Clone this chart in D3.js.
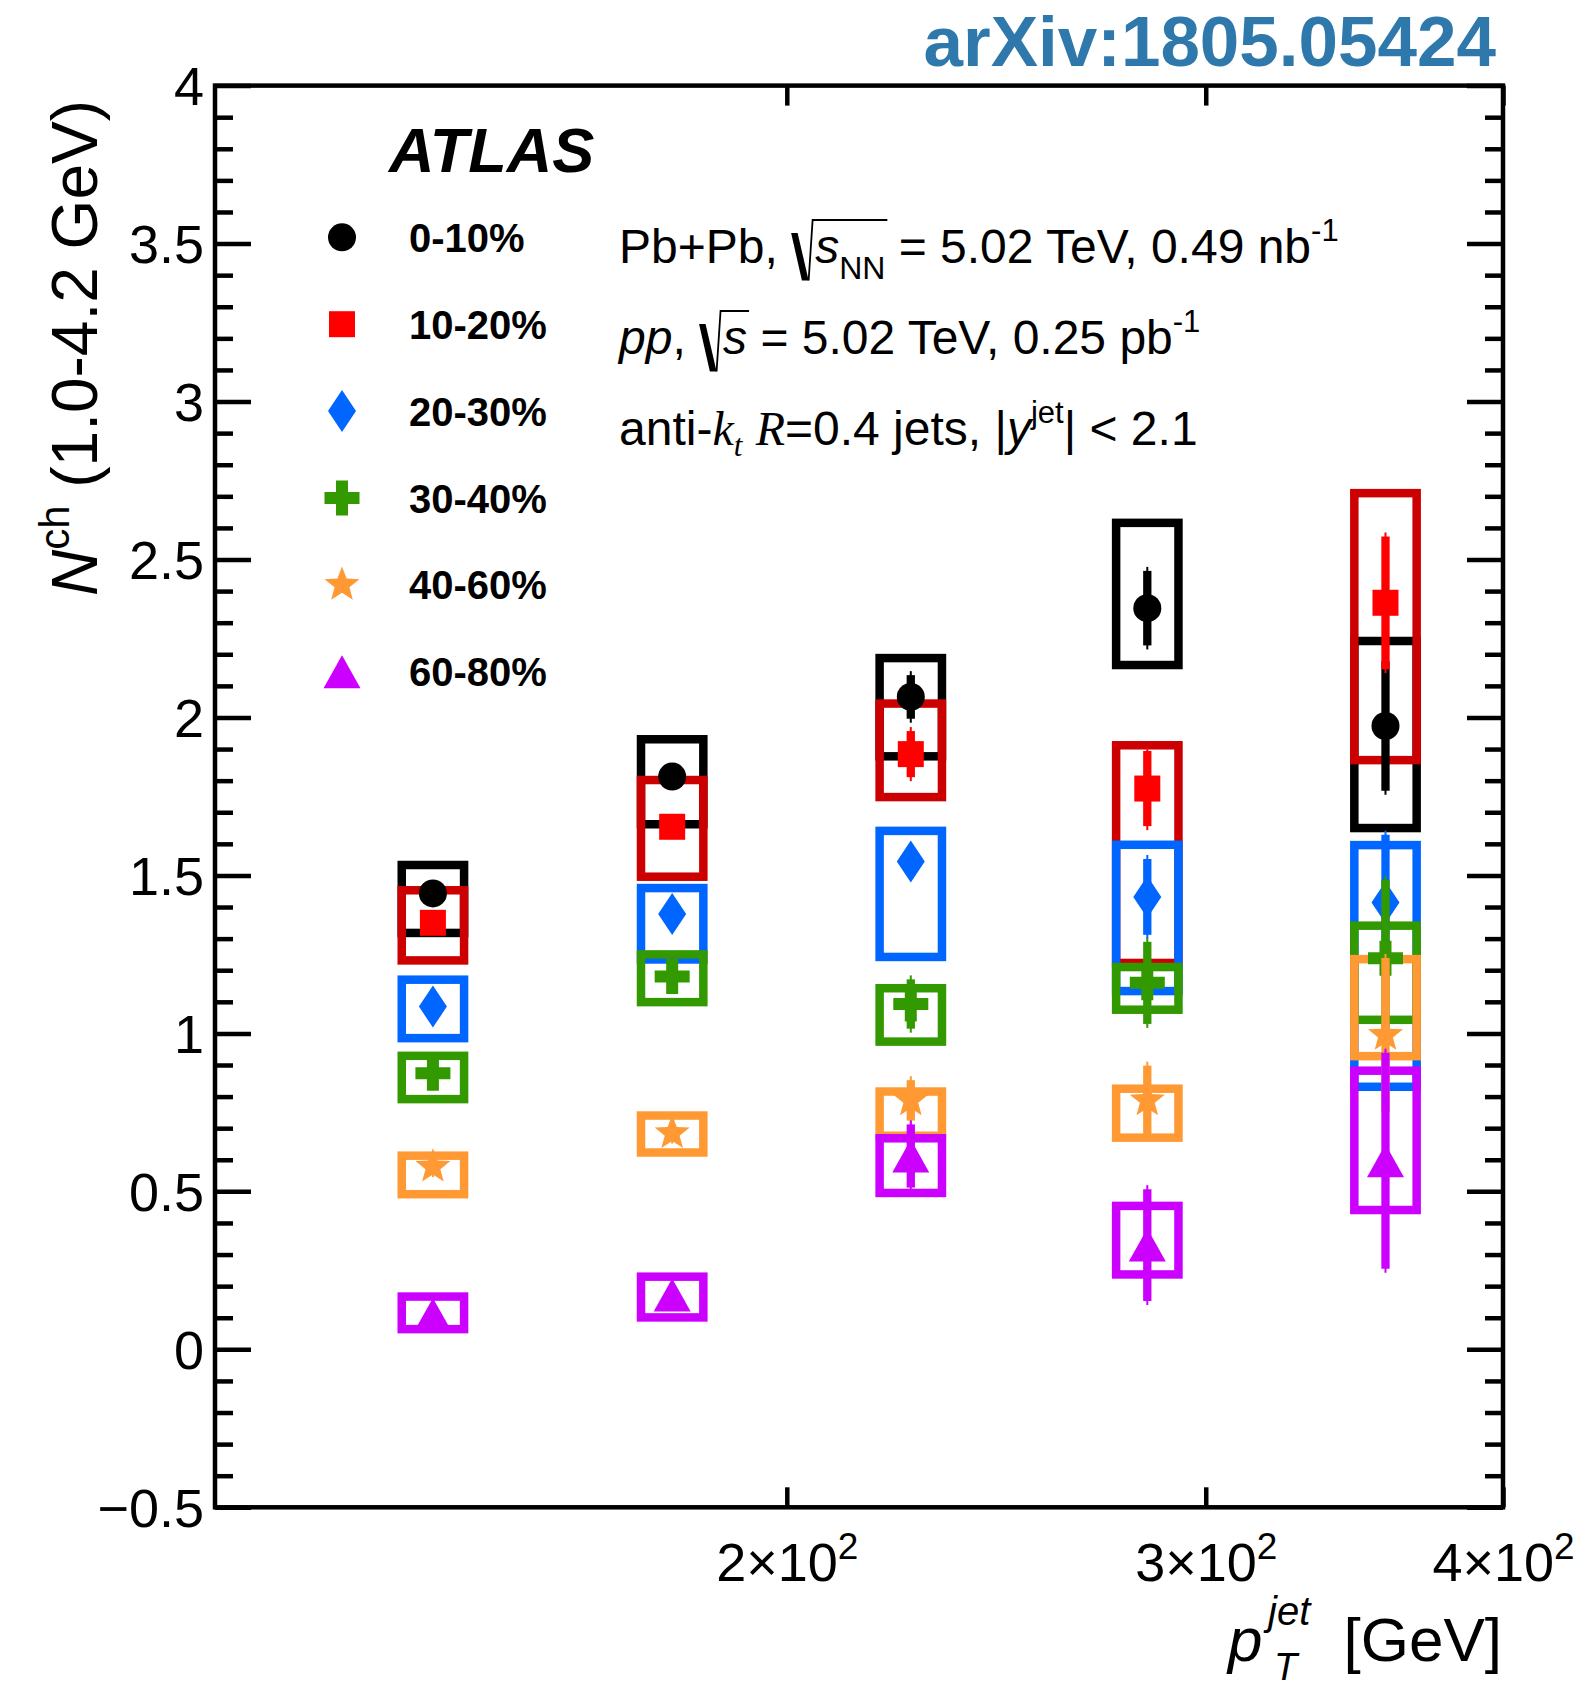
<!DOCTYPE html>
<html>
<head>
<meta charset="utf-8">
<script src="https://cdn.jsdelivr.net/npm/d3@7"></script>
<style>
  body { margin: 0; background: #ffffff; }
  svg { display: block; }
  text { font-family: "Liberation Sans", Arial, Helvetica, sans-serif; fill: #000; }
</style>
</head>
<body>
<svg id="chart" width="1584" height="1688"></svg>
<script>
// Jet pT bin centres [GeV]
const ptCenters = [142, 179, 225.5, 283.5, 357];

// Centrality classes
const centralityLabels = ["0-10%", "10-20%", "20-30%", "30-40%", "40-60%", "60-80%"];

// N^ch (1.0-4.2 GeV), one row per centrality class, one entry per pT bin
const nchValues = [
  [1.443, 1.813, 2.065, 2.346, 1.973],
  [1.350, 1.654, 1.884, 1.775, 2.363],
  [1.085, 1.378, 1.544, 1.432, 1.414],
  [0.874, 1.180, 1.093, 1.160, 1.238],
  [0.578, 0.684, 0.788, 0.788, 0.995],
  [0.110, 0.172, 0.612, 0.330, 0.597]
];

// Statistical uncertainties (symmetric)
const statErrors = [
  [0.020, 0.020, 0.069, 0.118, 0.205],
  [0.020, 0.020, 0.073, 0.119, 0.210],
  [0.020, 0.020, 0.045, 0.120, 0.215],
  [0.020, 0.025, 0.078, 0.130, 0.248],
  [0.020, 0.020, 0.064, 0.110, 0.244],
  [0.020, 0.020, 0.100, 0.177, 0.342]
];

// Systematic uncertainty band, lower and upper edges
const systLow = [
  [1.318, 1.662, 1.877, 2.166, 1.650],
  [1.231, 1.496, 1.748, 1.223, 1.865],
  [0.985, 1.234, 1.242, 1.134, 0.831],
  [0.792, 1.099, 0.974, 1.075, 1.043],
  [0.491, 0.623, 0.676, 0.670, 0.928],
  [0.064, 0.101, 0.495, 0.237, 0.441]
];
const systHigh = [
  [1.533, 1.931, 2.188, 2.616, 2.242],
  [1.453, 1.802, 2.044, 1.912, 2.710],
  [1.170, 1.460, 1.641, 1.597, 1.596],
  [0.929, 1.250, 1.143, 1.210, 1.341],
  [0.613, 0.740, 0.816, 0.825, 1.235],
  [0.167, 0.230, 0.668, 0.454, 0.882]
];

// Axis tick values
const yMajorTicks = [-0.5, 0, 0.5, 1, 1.5, 2, 2.5, 3, 3.5, 4];
const xMajorTicks = [200, 300, 400];

// Styling per centrality class
const markerColors = ["#000000", "#ff0000", "#0066ff", "#339900", "#ff9933", "#cc00ff"];
const boxColors    = ["#000000", "#cc0000", "#0066ff", "#339900", "#ff9933", "#cc00ff"];
const markerTypes  = ["circle", "square", "diamond", "plus", "star", "triangle"];

const svg = d3.select("#chart");
const plot = { left: 215, right: 1503, top: 85.6, bottom: 1507.3 };

const x = d3.scaleLog().domain([115, 400]).range([plot.left, plot.right]);
const y = d3.scaleLinear().domain([-0.5, 4]).range([plot.bottom, plot.top]);

// Systematic boxes have a fixed width in log(pT)
const boxHalfDex = 0.0131;
const boxStroke = 8.5;
const statStroke = 8.3;

function starPath(R, r) {
  const pts = [];
  for (let i = 0; i < 10; i++) {
    const a = -Math.PI / 2 + i * Math.PI / 5;
    const rad = i % 2 === 0 ? R : r;
    pts.push([rad * Math.cos(a), rad * Math.sin(a)]);
  }
  return "M" + pts.map(p => p[0].toFixed(2) + "," + p[1].toFixed(2)).join("L") + "Z";
}

function markerPath(type) {
  switch (type) {
    case "circle":   return "M14,0A14,14 0 1,1 -14,0A14,14 0 1,1 14,0Z";
    case "square":   return "M-13,-13H13V13H-13Z";
    case "diamond":  return "M0,-21L14,0L0,21L-14,0Z";
    case "plus":     return "M-6,-17.5H6V-6H17.5V6H6V17.5H-6V6H-17.5V-6H-6Z";
    case "star":     return starPath(18.4, 7.8);
    case "triangle": return "M0,-16.5L18.5,16.5L-18.5,16.5Z";
  }
}

// ---- Systematic uncertainty boxes (drawn below all markers) ----
const boxes = svg.append("g").attr("class", "syst-boxes");
centralityLabels.forEach((lab, s) => {
  ptCenters.forEach((pt, i) => {
    const x0 = x(pt / Math.pow(10, boxHalfDex));
    const x1 = x(pt * Math.pow(10, boxHalfDex));
    const yTop = y(systHigh[s][i]);
    const yBot = y(systLow[s][i]);
    boxes.append("rect")
      .attr("x", x0).attr("y", yTop)
      .attr("width", x1 - x0).attr("height", yBot - yTop)
      .attr("fill", "none")
      .attr("stroke", boxColors[s])
      .attr("stroke-width", boxStroke);
  });
});

// ---- Statistical error bars and markers ----
const points = svg.append("g").attr("class", "points");
centralityLabels.forEach((lab, s) => {
  const g = points.append("g");
  ptCenters.forEach((pt, i) => {
    const v = nchValues[s][i], e = statErrors[s][i];
    const cx = x(pt);
    // thin end tips
    g.append("line")
      .attr("x1", cx).attr("x2", cx)
      .attr("y1", y(v + e) - 4).attr("y2", y(v - e) + 4)
      .attr("stroke", markerColors[s]).attr("stroke-width", 2);
    g.append("line")
      .attr("x1", cx).attr("x2", cx)
      .attr("y1", y(v + e)).attr("y2", y(v - e))
      .attr("stroke", markerColors[s]).attr("stroke-width", statStroke);
    g.append("path")
      .attr("d", markerPath(markerTypes[s]))
      .attr("transform", `translate(${cx},${y(v)})`)
      .attr("fill", markerColors[s]);
  });
});

// ---- Axes ----
const tickStyle = sel => {
  sel.select(".domain").remove();
  sel.selectAll(".tick line").attr("stroke", "#000").attr("stroke-width", 4.5);
};

const yMinorTicks = d3.range(-5, 41).map(k => k / 10).filter(v => Math.abs(v * 2 - Math.round(v * 2)) > 1e-6);

svg.append("g")
  .attr("transform", `translate(${plot.left},0)`)
  .call(d3.axisLeft(y).tickValues(yMinorTicks).tickSize(-18).tickFormat(""))
  .call(tickStyle);
svg.append("g")
  .attr("transform", `translate(${plot.right},0)`)
  .call(d3.axisRight(y).tickValues(yMinorTicks).tickSize(-18).tickFormat(""))
  .call(tickStyle);
svg.append("g")
  .attr("transform", `translate(${plot.right},0)`)
  .call(d3.axisRight(y).tickValues(yMajorTicks).tickSize(-36).tickFormat(""))
  .call(tickStyle);

const yAxis = svg.append("g")
  .attr("transform", `translate(${plot.left},0)`)
  .call(d3.axisLeft(y).tickValues(yMajorTicks).tickSize(-36).tickPadding(11)
        .tickFormat(d => d < 0 ? "\u2212" + Math.abs(d) : String(d)))
  .call(tickStyle);
yAxis.selectAll(".tick text")
  .attr("font-size", 54)
  .attr("font-family", "'Liberation Sans', Arial, Helvetica, sans-serif")
  .attr("fill", "#000")
  .attr("dy", "0.35em");

svg.append("g")
  .attr("transform", `translate(0,${plot.top})`)
  .call(d3.axisTop(x).tickValues(xMajorTicks).tickSize(-20).tickFormat(""))
  .call(tickStyle);
const xAxis = svg.append("g")
  .attr("transform", `translate(0,${plot.bottom})`)
  .call(d3.axisBottom(x).tickValues(xMajorTicks).tickSize(-20).tickFormat(""))
  .call(tickStyle);
xAxis.selectAll(".tick").each(function (d) {
  const t = d3.select(this).append("text")
    .attr("y", 74).attr("text-anchor", "middle")
    .attr("font-size", 54).attr("fill", "#000")
    .attr("font-family", "'Liberation Sans', Arial, Helvetica, sans-serif");
  t.append("tspan").text(`${d / 100}\u00d710`);
  t.append("tspan").attr("font-size", 37).attr("dy", -22).text("2");
});

// ---- Frame ----
svg.append("rect")
  .attr("x", plot.left).attr("y", plot.top)
  .attr("width", plot.right - plot.left).attr("height", plot.bottom - plot.top)
  .attr("fill", "none").attr("stroke", "#000").attr("stroke-width", 4.5);

// ---- Axis titles ----
const yTitle = svg.append("text")
  .attr("transform", "translate(97,100) rotate(-90)")
  .attr("text-anchor", "end")
  .attr("font-size", 64);
yTitle.append("tspan").attr("font-style", "italic").text("N");
yTitle.append("tspan").attr("font-size", 42).attr("dy", -28).text("ch");
yTitle.append("tspan").attr("dy", 28).text(" (1.0-4.2 GeV)");

svg.append("text").attr("x", 1502).attr("y", 1661)
  .attr("text-anchor", "end").attr("font-size", 62).text("[GeV]");
svg.append("text").attr("x", 1228).attr("y", 1661)
  .attr("font-size", 62).attr("font-style", "italic").text("p");
svg.append("text").attr("x", 1268).attr("y", 1625)
  .attr("font-size", 40).attr("font-style", "italic").text("jet");
svg.append("text").attr("x", 1274).attr("y", 1680)
  .attr("font-size", 38).attr("font-style", "italic").text("T");

// ---- ATLAS label ----
svg.append("text").attr("x", 389).attr("y", 172)
  .attr("font-size", 63).attr("font-weight", "bold").attr("font-style", "italic")
  .text("ATLAS");

// ---- arXiv reference ----
svg.append("text").attr("x", 1496).attr("y", 66)
  .attr("text-anchor", "end").attr("font-size", 71).attr("font-weight", "bold")
  .style("fill", "#2f78ab")
  .text("arXiv:1805.05424");

// ---- Legend ----
const legend = svg.append("g");
const legendY0 = 237.3, legendStep = 86.9;
centralityLabels.forEach((lab, s) => {
  const ly = legendY0 + s * legendStep;
  legend.append("path")
    .attr("d", markerPath(markerTypes[s]))
    .attr("transform", `translate(342,${ly})`)
    .attr("fill", markerColors[s]);
  legend.append("text")
    .attr("x", 409).attr("y", ly + 14.5)
    .attr("font-size", 40).attr("font-weight", "bold")
    .text(lab);
});

// ---- Collision system / selection text ----
const info = svg.append("g");
const infoSize = 48;
function richLine(x0, base, parts) {
  let cx = x0, rootX = null;
  parts.forEach(p => {
    if (p.sqrt === "open") {
      info.append("path")
        .attr("d", `M${cx},${base - 30}L${cx + 6.5},${base - 30}L${cx + 17.5},${base + 17.5}L${cx + 10.8},${base + 17.5}Z`)
        .attr("fill", "#000");
      rootX = cx + 17.5;
      cx += 24;
      return;
    }
    if (p.sqrt === "close") {
      info.append("path")
        .attr("d", `M${rootX},${base + 17.5}L${rootX + 4},${base - 43}L${cx + 2},${base - 43}`)
        .attr("fill", "none").attr("stroke", "#000").attr("stroke-width", 1.8);
      return;
    }
    const t = info.append("text")
      .attr("x", cx).attr("y", base + (p.dy || 0))
      .attr("font-size", p.size || infoSize)
      .style("white-space", "pre")
      .text(p.t);
    if (p.italic) t.attr("font-style", "italic");
    if (p.serif) t.style("font-family", "'Liberation Serif', 'Times New Roman', serif");
    cx += t.node().getComputedTextLength();
  });
}

richLine(619, 263, [
  { t: "Pb+Pb, " },
  { sqrt: "open" },
  { t: "s", italic: true },
  { t: "NN", size: 32, dy: 16 },
  { sqrt: "close" },
  { t: " = 5.02 TeV, 0.49 nb" },
  { t: "-1", size: 31, dy: -22 }
]);
richLine(619, 354, [
  { t: "pp", italic: true },
  { t: ", " },
  { sqrt: "open" },
  { t: "s", italic: true },
  { sqrt: "close" },
  { t: " = 5.02 TeV, 0.25 pb" },
  { t: "-1", size: 31, dy: -22 }
]);
richLine(619, 445, [
  { t: "anti-" },
  { t: "k", italic: true, serif: true },
  { t: "t", italic: true, serif: true, size: 31, dy: 11 },
  { t: " " },
  { t: "R", italic: true, serif: true },
  { t: "=0.4 jets, |" },
  { t: "y", italic: true },
  { t: "jet", size: 31, dy: -22 },
  { t: "| < 2.1" }
]);
</script>
</body>
</html>
